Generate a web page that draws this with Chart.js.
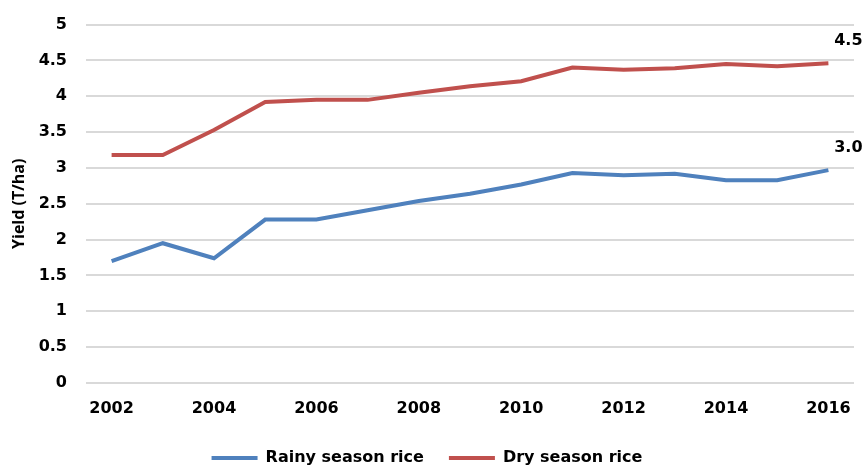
<!DOCTYPE html>
<html>
<head>
<meta charset="utf-8">
<script src="https://cdn.jsdelivr.net/npm/chart.js@4.4.0/dist/chart.umd.min.js"></script>
<style>
  html, body { margin: 0; padding: 0; background: #fff; }
  #wrap { width: 865px; height: 468px; }
</style>
</head>
<body>
<div id="wrap"><canvas id="yieldChart"></canvas></div>
<script>
var years = ['2002', '2003', '2004', '2005', '2006', '2007', '2008', '2009',
             '2010', '2011', '2012', '2013', '2014', '2015', '2016'];
var rainySeason = [1.70, 1.95, 1.74, 2.28, 2.28, 2.41, 2.54, 2.64, 2.77, 2.93, 2.90, 2.92, 2.83, 2.83, 2.97];
var drySeason = [3.18, 3.18, 3.53, 3.92, 3.95, 3.95, 4.05, 4.14, 4.21, 4.40, 4.37, 4.39, 4.45, 4.42, 4.46];

var FONT = "'DejaVu Sans', sans-serif";

// value label next to the last point of each line
var endLabels = {
    id: 'endLabels',
    afterDatasetsDraw: function (chart) {
        var ctx = chart.ctx;
        ctx.save();
        ctx.font = "bold 16px " + FONT;
        ctx.fillStyle = '#000';
        ctx.textAlign = 'center';
        ctx.textBaseline = 'middle';
        chart.data.datasets.forEach(function (ds, i) {
            var pts = chart.getDatasetMeta(i).data;
            var last = pts[pts.length - 1];
            var val = ds.data[ds.data.length - 1];
            ctx.fillText(val.toFixed(1), last.x + 20, last.y - 22);
        });
        ctx.restore();
    }
};

var config = {
    type: 'line',
    data: {
        labels: years,
        datasets: [{
            label: 'Rainy season rice',
            data: rainySeason,
            borderColor: '#4f81bd',
            backgroundColor: '#4f81bd',
            borderWidth: 4,
            pointRadius: 0,
            tension: 0
        }, {
            label: 'Dry season rice',
            data: drySeason,
            borderColor: '#c0504d',
            backgroundColor: '#c0504d',
            borderWidth: 4,
            pointRadius: 0,
            tension: 0
        }]
    },
    options: {
        responsive: true,
        maintainAspectRatio: false,
        animation: false,
        layout: { padding: { left: 0, right: 11, top: 0, bottom: -8 } },
        plugins: {
            tooltip: { enabled: false },
            legend: {
                position: 'bottom',
                labels: {
                    boxWidth: 46,
                    boxHeight: 4,
                    padding: 25,
                    color: '#000',
                    font: { family: FONT, size: 16, weight: 'bold' },
                    generateLabels: function (chart) {
                        return chart.data.datasets.map(function (ds, i) {
                            return {
                                text: ds.label,
                                fillStyle: ds.borderColor,
                                strokeStyle: ds.borderColor,
                                lineWidth: 0,
                                datasetIndex: i,
                                fontColor: '#000'
                            };
                        });
                    }
                }
            }
        },
        scales: {
            x: {
                offset: true,
                grid: { display: false },
                border: { display: false },
                afterFit: function (scale) { scale.height = 42; },
                ticks: {
                    autoSkip: false,
                    maxRotation: 0,
                    color: '#000',
                    padding: 8,
                    font: { family: FONT, size: 16, weight: 'bold' },
                    callback: function (val, idx) {
                        return idx % 2 === 0 ? this.getLabelForValue(val) : '';
                    }
                }
            },
            y: {
                min: 0,
                max: 5,
                grid: { color: '#d9d9d9', lineWidth: 2, drawTicks: false },
                border: { display: false },
                afterFit: function (scale) { scale.width = 86; },
                ticks: {
                    stepSize: 0.5,
                    color: '#000',
                    padding: 19,
                    font: { family: FONT, size: 16, weight: 'bold', lineHeight: 0.7 },
                    callback: function (val) {
                        return String(+val.toFixed(1));
                    }
                },
                title: {
                    display: true,
                    text: 'Yield (T/ha)',
                    color: '#000',
                    padding: { top: 10, bottom: 0 },
                    font: { family: "'Open Sans', sans-serif", size: 16, weight: 'bold' }
                }
            }
        }
    },
    plugins: [endLabels]
};

new Chart(document.getElementById('yieldChart'), config);
</script>
</body>
</html>
